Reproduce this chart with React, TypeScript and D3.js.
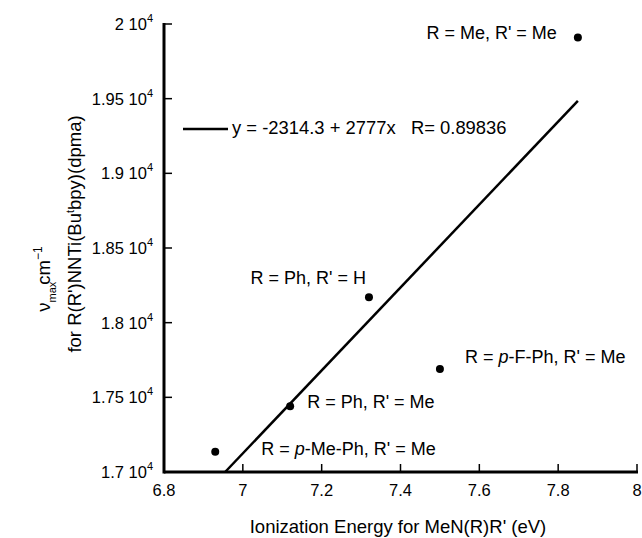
import React from 'react';
import * as d3 from 'd3';

// measured data (ionization energy in eV, nu max in cm-1)
const energies = [7.85, 7.32, 7.5, 7.12, 6.93];
const nuMax = [19910, 18170, 17690, 17440, 17135];
const pointLabels = [
  ['R = Me, R\' = Me'],
  ['R = Ph, R\' = H'],
  ['R = ', 'p', '-F-Ph, R\' = Me'],
  ['R = Ph, R\' = Me'],
  ['R = ', 'p', '-Me-Ph, R\' = Me'],
];
const xTicks = [6.8, 7, 7.2, 7.4, 7.6, 7.8, 8];
const yTicks = [17000, 17500, 18000, 18500, 19000, 19500, 20000];
const yTickLabels = ['1.7', '1.75', '1.8', '1.85', '1.9', '1.95', '2'];
const fitIntercept = -2314.3;
const fitSlope = 2777;
const fitText = 'y = -2314.3 + 2777x   R= 0.89836';

// where each label sits relative to its point
const labelOffsets = [
  { dx: -21, dy: 2, anchor: 'end' },
  { dx: -3, dy: -13, anchor: 'end' },
  { dx: 25, dy: -6, anchor: 'start' },
  { dx: 17, dy: 2, anchor: 'start' },
  { dx: 46, dy: 3, anchor: 'start' },
];

const W = 642;
const H = 538;
const font = '"Liberation Sans", Arial, Helvetica, sans-serif';

export default function App() {
  const x = d3.scaleLinear().domain([6.8, 8]).range([164, 637]);
  const y = d3.scaleLinear().domain([17000, 20000]).range([472, 24]);

  const xStart = (17000 - fitIntercept) / fitSlope;
  const fitPts: [number, number][] = [xStart, 7.85].map(e => [e, fitIntercept + fitSlope * e]);
  const line = d3.line<[number, number]>()
    .x(d => x(d[0]))
    .y(d => y(d[1]));

  return (
    <svg width={W} height={H} style={{ position: 'absolute', left: 0, top: 0, background: '#fff' }}
      fontFamily={font} fontSize={18}>
      {/* axes */}
      <line x1={x(6.8)} x2={x(8) + 1} y1={y(17000)} y2={y(17000)} stroke="#000" strokeWidth={3} />
      <line x1={x(6.8)} x2={x(6.8)} y1={y(17000) + 1.5} y2={y(20000) - 1} stroke="#000" strokeWidth={3} />
      {xTicks.map(t => (
        <g key={'x' + t}>
          <line x1={x(t)} x2={x(t)} y1={y(17000)} y2={y(17000) - 8} stroke="#000" strokeWidth={1.5} />
          <text x={x(t)} y={496} textAnchor="middle" fontSize={16.5}>{t}</text>
        </g>
      ))}
      {yTicks.map((t, i) => (
        <g key={'y' + t}>
          <line x1={x(6.8)} x2={x(6.8) + 8} y1={y(t)} y2={y(t)} stroke="#000" strokeWidth={1.5} />
          <text x={153} y={y(t) + 6} textAnchor="end" fontSize={16.5}>
            {yTickLabels[i] + ' 10'}
            <tspan fontSize={11} dy={-8}>4</tspan>
          </text>
        </g>
      ))}

      {/* fit line */}
      <path d={line(fitPts) || ''} fill="none" stroke="#000" strokeWidth={2.5} />

      {/* legend */}
      <line x1={183} x2={228} y1={129} y2={129} stroke="#000" strokeWidth={2.5} />
      <text x={232} y={134} fontSize={18.4} style={{ whiteSpace: 'pre' }}>{fitText}</text>

      {/* points */}
      {energies.map((e, i) => (
        <g key={'p' + i}>
          <circle cx={x(e)} cy={y(nuMax[i])} r={4} fill="#000" />
          <text x={x(e) + labelOffsets[i].dx} y={y(nuMax[i]) + labelOffsets[i].dy}
            textAnchor={labelOffsets[i].anchor} style={{ whiteSpace: 'pre' }}>
            {pointLabels[i].map((s, j) => (
              <tspan key={j} fontStyle={j === 1 ? 'italic' : 'normal'}>{s}</tspan>
            ))}
          </text>
        </g>
      ))}

      {/* axis titles */}
      <text x={398} y={533} textAnchor="middle" fontSize={18.5}>Ionization Energy for MeN(R)R' (eV)</text>
      <text transform="translate(81,234) rotate(-90)" textAnchor="middle" fontSize={18.5}>
        for R(R')NNTi(Bu<tspan fontSize={11} dy={-7}>t</tspan><tspan dy={7}>bpy)(dpma)</tspan>
      </text>
      <text transform="translate(50,279) rotate(-90)" textAnchor="middle" fontSize={18.5}>
        ν<tspan fontSize={11} dy={6}>max</tspan><tspan dx={-3} dy={-6}>cm</tspan>
        <tspan fontSize={12} dy={-8}>−1</tspan>
      </text>
    </svg>
  );
}
